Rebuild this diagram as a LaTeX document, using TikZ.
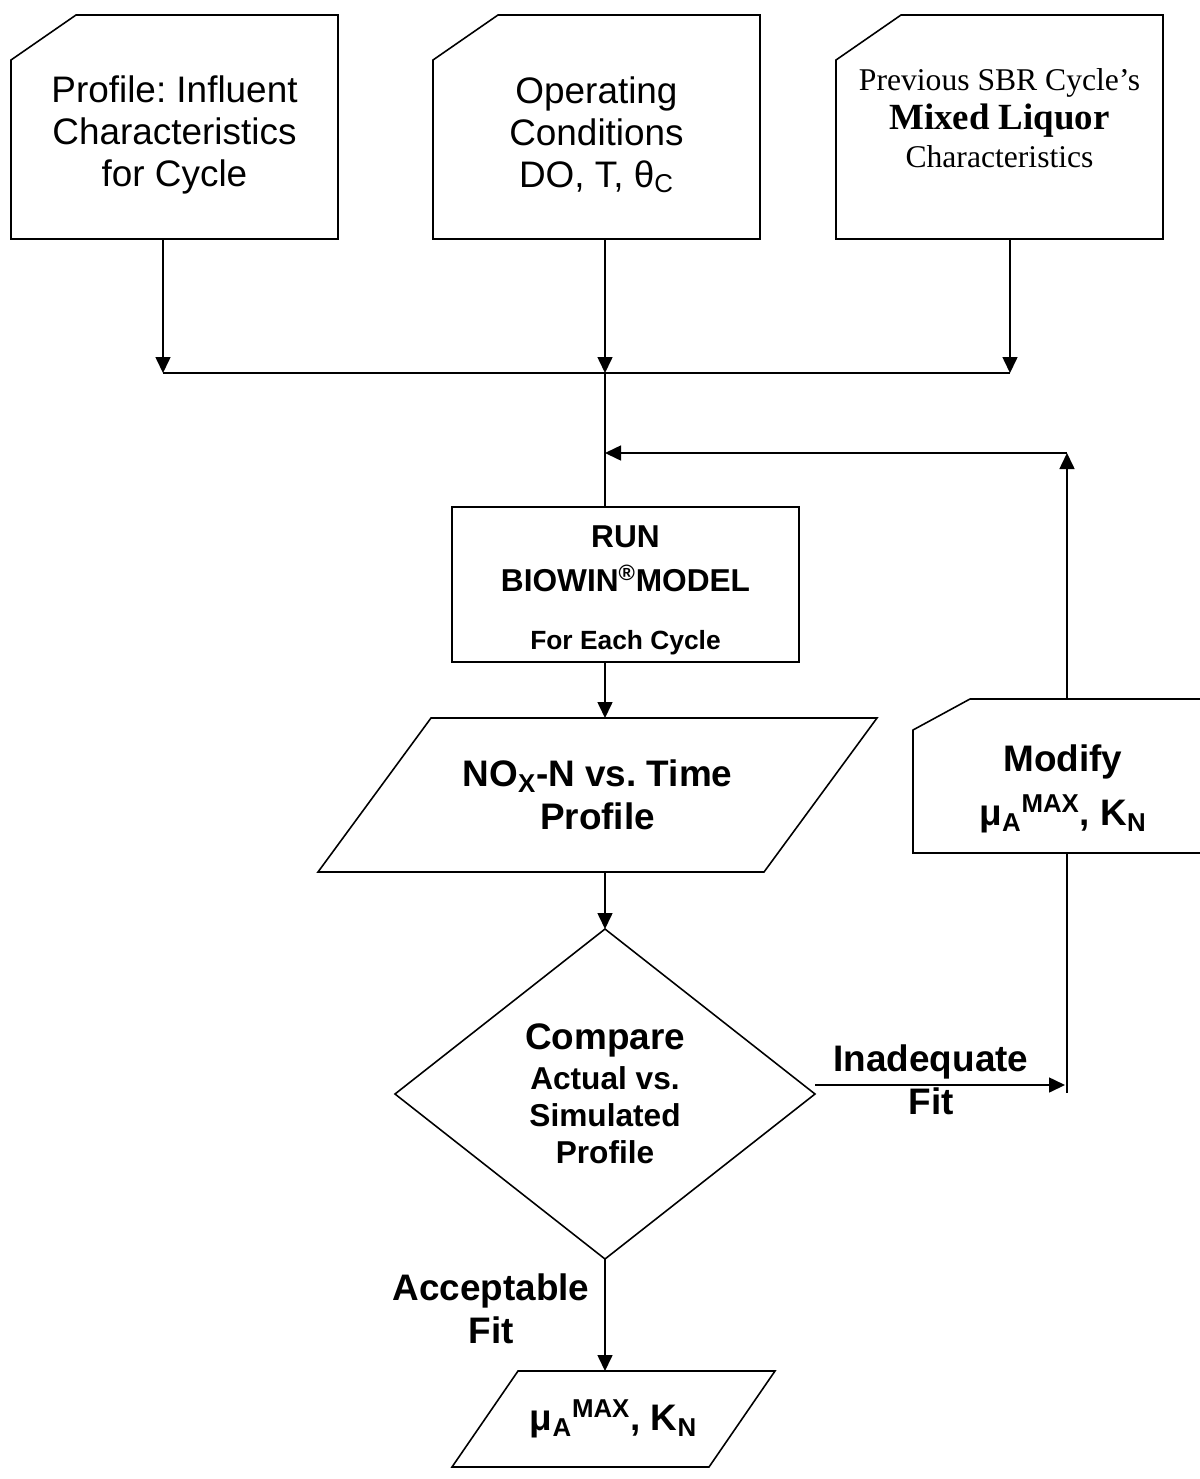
\documentclass[tikz,border=0pt]{standalone}
\usepackage{fontspec}
\setmainfont{Liberation Sans}
\newfontfamily\tms{Liberation Serif}
\usetikzlibrary{arrows.meta, shapes.geometric}
\frenchspacing
\newcommand\fbig{\fontsize{21}{24}\selectfont}
\newcommand\fmid{\fontsize{18}{21}\selectfont}
\tikzstyle{inp}=[draw=none, shape=rectangle, minimum width=6.54cm, minimum height=4.48cm, align=center, inner sep=0pt, outer sep=0pt, font=\fontsize{21}{23.9}\selectfont]
\tikzstyle{blk}=[draw=black, shape=rectangle, minimum width=6.94cm, minimum height=3.1cm, align=center, outer sep=0pt, font=\bfseries\fontsize{18}{25.5}\selectfont]
\tikzstyle{par}=[draw=none, shape=rectangle, align=center, inner sep=0pt, outer sep=0pt, font=\bfseries\fontsize{21}{24.5}\selectfont]
\tikzstyle{dia}=[draw=black, shape=diamond, minimum width=8.4cm, minimum height=6.6cm, align=center, inner sep=0pt, outer sep=0pt, font=\bfseries\fmid]
\tikzstyle{lbl}=[align=center, font=\bfseries\fontsize{21}{24.5}\selectfont]
\tikzstyle{arw}=[-{Triangle[length=0.32cm, width=0.3cm]}]

\begin{document}
\begin{tikzpicture}[line width=0.9pt]
		\clip (0,0) rectangle (24,-29.58);

		% input boxes
		\node[style=inp] (1) at (3.49,-2.54) {\rule{0pt}{23.8pt}Profile: Influent\\Characteristics\\for Cycle};
		\node[style=inp] (2) at (11.93,-2.54) {\rule{0pt}{23.8pt}Operating\\Conditions\\DO, T, θ\textsubscript{C}};
		\node[style=inp, font=\tms\fontsize{18}{22}\selectfont] (3) at (19.99,-2.54) {Previous SBR Cycle’s\\{\fontsize{21}{22}\selectfont\bfseries Mixed Liquor}\\Characteristics\rule[-10pt]{0pt}{10pt}};
		\foreach \n in {1,2,3}
			\draw ([yshift=-0.9cm]\n.north west) -- ([xshift=1.3cm]\n.north west) -- (\n.north east) -- (\n.south east) -- (\n.south west) -- cycle;

		\coordinate (4) at (3.26,-7.46);
		\coordinate (5) at (12.1,-7.46);
		\coordinate (6) at (20.2,-7.46);
		\draw[style=arw] (1.south -| 4) to (4);
		\draw[style=arw] (2.south -| 5) to (5);
		\draw[style=arw] (3.south -| 6) to (6);
		\draw[line width=1.3pt] (4) to (6);

		% model run
		\node[style=blk] (7) at (12.51,-11.69) {\rule{0pt}{18.6pt}RUN\\BIOWIN\textsuperscript{®}MODEL\\[7pt]{\fontsize{15}{16}\selectfont For Each Cycle}};
		\draw (5) to (7.north -| 5);

		\node[style=par, minimum width=11.18cm, minimum height=3.08cm] (8) at (11.95,-15.9) {NO\textsubscript{X}-N vs. Time\\Profile};
		\draw[style=arw] (7.south -| 5) to (8.north -| 5);

		\node[style=dia] (9) at (12.1,-21.88) {{\fontsize{21}{21}\selectfont Compare}\\[1.8pt]Actual vs.\\Simulated\\Profile};
		\draw[style=arw] (8.south -| 9.north) to (9.north);

		% feedback loop
		\node[style=inp, minimum width=6cm, minimum height=3.08cm, font=\bfseries\fontsize{21}{30.7}\selectfont] (10) at (21.26,-15.52) {\rule{0pt}{30pt}Modify\\μ\textsubscript{A}\textsuperscript{MAX}, K\textsubscript{N}};
		\draw ([yshift=-0.62cm]10.north west) -- ([xshift=1.14cm]10.north west) -- (10.north east) -- (10.south east) -- (10.south west) -- cycle;

		\coordinate (11) at (21.34,-9.06);
		\coordinate (12) at (21.3,-21.7);
		\coordinate (13) at (21.34,-21.86);
		\draw[style=arw] (9.east |- 12) to (12);
		\draw (10.south -| 11) to (13);
		\draw[style=arw] (10.north -| 11) to (11);
		\draw[style=arw] (11) to (11 -| 5);

		\node[style=lbl] (14) at (18.62,-21.6) {Inadequate\\Fit};

		% result
		\node[style=par, minimum width=6.46cm, minimum height=1.92cm] (15) at (12.27,-28.38) {μ\textsubscript{A}\textsuperscript{MAX}, K\textsubscript{N}};
		\draw[style=arw] (9.south) to (15.north -| 9.south);

		\foreach \n/\d in {8/2.26, 15/1.32}
			\draw ([xshift=\d cm]\n.north west) -- (\n.north east) -- ([xshift=-\d cm]\n.south east) -- (\n.south west) -- cycle;

		\node[style=lbl] (16) at (9.82,-26.18) {Acceptable\\Fit};
	\end{tikzpicture}
\end{document}
